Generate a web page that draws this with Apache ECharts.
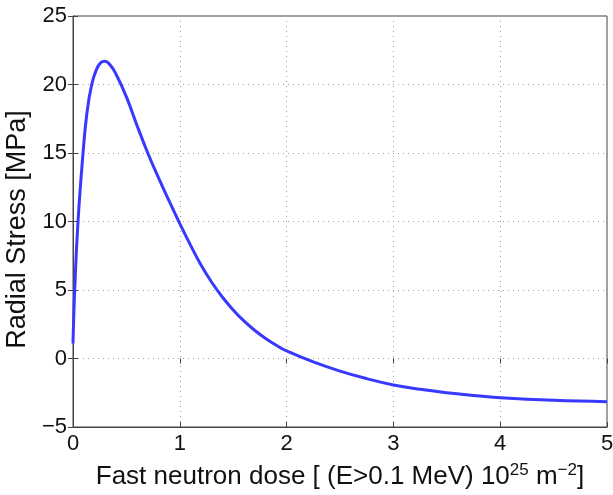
<!DOCTYPE html>
<html>
<head>
<meta charset="utf-8">
<script src="https://cdn.jsdelivr.net/npm/echarts@6/dist/echarts.min.js"></script>
<style>html,body{margin:0;padding:0;background:#fff;}#c{width:613px;height:495px;}</style>
</head>
<body>
<div id="c"></div>
<script>
var doseX = [0, 0.016, 0.047, 0.094, 0.13, 0.175, 0.22, 0.26, 0.3, 0.35, 0.4, 0.5, 0.6, 0.7, 0.8, 0.9, 1.0, 1.1, 1.2, 1.3, 1.4, 1.5, 1.6, 1.7, 1.8, 1.9, 2.0, 2.25, 2.5, 2.75, 3.0, 3.25, 3.5, 3.75, 4.0, 4.5, 5.0];
var stressY = [1.1, 5, 10, 15, 17.9, 20.0, 21.1, 21.6, 21.7, 21.4, 20.8, 19.1, 17.0, 15.0, 13.2, 11.5, 9.85, 8.28, 6.8, 5.55, 4.47, 3.54, 2.74, 2.06, 1.48, 0.98, 0.55, -0.25, -0.92, -1.47, -1.93, -2.25, -2.5, -2.7, -2.86, -3.05, -3.15];
var xTicks = [0, 1, 2, 3, 4, 5];
var yTicks = [-5, 0, 5, 10, 15, 20, 25];

var pts = doseX.map(function (x, i) { return [x, stressY[i]]; });
var font = 'Liberation Sans, Arial, Helvetica, sans-serif';
var axisCol = '#444';
var fmt = function (v) { return String(v).replace('-', '\u2212'); };

var chart = echarts.init(document.getElementById('c'), null, {renderer: 'canvas'});
chart.setOption({
  animation: false,
  backgroundColor: '#fff',
  grid: {left: 73, right: 6, top: 16, bottom: 68, show: true, borderColor: axisCol, borderWidth: 1,
    containLabel: false, outerBoundsMode: 'none'},
  xAxis: [{
    type: 'value', min: xTicks[0], max: xTicks[xTicks.length - 1], interval: 1,
    axisLine: {onZero: false, lineStyle: {color: axisCol}},
    axisTick: {inside: true, length: 5, lineStyle: {color: axisCol}},
    axisLabel: {color: '#111', fontSize: 22, fontFamily: font, margin: 6, formatter: fmt},
    splitLine: {show: true, lineStyle: {color: '#a0a0a0', type: [1, 4], width: 1}},
    name: 'Fast neutron dose [ (E>0.1 MeV) 10{sup|25} m{sup|\u22122}]',
    nameLocation: 'middle', nameGap: 35,
    nameTextStyle: {color: '#111', fontSize: 26, fontFamily: font,
      rich: {sup: {fontSize: 17, verticalAlign: 'top', padding: [0, 0, 12, 0], fontFamily: font, color: '#111'}}}
  }, {
    type: 'value', position: 'top', min: 0, max: 5, interval: 1,
    axisLine: {show: false}, axisLabel: {show: false}, splitLine: {show: false},
    axisTick: {inside: true, length: 5, lineStyle: {color: axisCol}}
  }],
  yAxis: [{
    type: 'value', min: yTicks[0], max: yTicks[yTicks.length - 1], interval: 5,
    axisLine: {show: true, lineStyle: {color: axisCol}},
    axisTick: {show: true, inside: true, length: 5, lineStyle: {color: axisCol}},
    axisLabel: {color: '#111', fontSize: 22, fontFamily: font, margin: 6, formatter: fmt},
    splitLine: {show: true, lineStyle: {color: '#a0a0a0', type: [1, 4], width: 1}},
    name: 'Radial Stress [MPa]', nameLocation: 'middle', nameGap: 40,
    nameTextStyle: {color: '#111', fontSize: 27, fontFamily: font, padding: [0, 16, 0, 0]}
  }, {
    type: 'value', position: 'right', min: -5, max: 25, interval: 5,
    axisLine: {show: false}, axisLabel: {show: false}, splitLine: {show: false},
    axisTick: {show: true, inside: true, length: 5, lineStyle: {color: axisCol}}
  }],
  series: [{
    type: 'line', data: pts, showSymbol: false, smooth: 0.45,
    lineStyle: {color: '#3838ff', width: 3}, clip: true
  }]
});
</script>
</body>
</html>
